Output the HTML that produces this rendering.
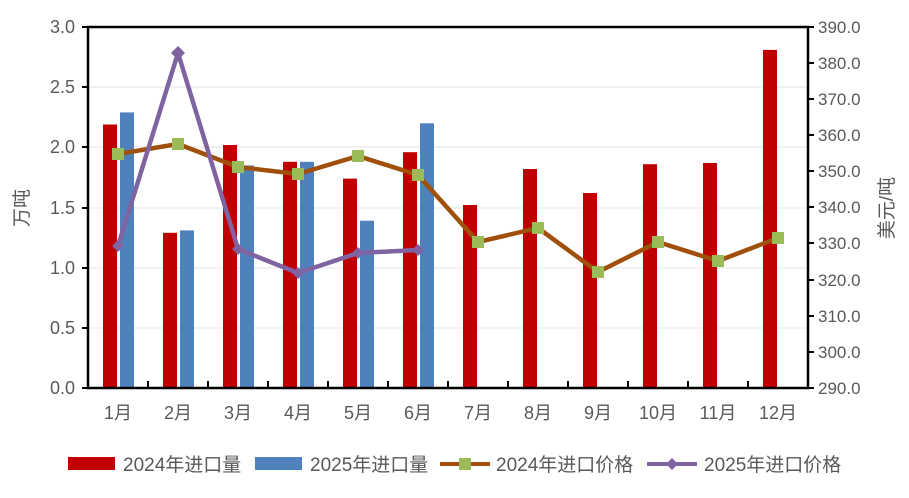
<!DOCTYPE html>
<html><head><meta charset="utf-8"><style>
body{margin:0;background:#fff;}
text{font-family:"Liberation Sans","Noto Sans CJK SC",sans-serif;fill:#595959;}
</style></head><body>
<svg width="909" height="493" xmlns="http://www.w3.org/2000/svg">
<rect width="909" height="493" fill="#fff"/>
<g stroke="#e3e3e3" stroke-width="1">
<line x1="88" y1="87" x2="808" y2="87"/><line x1="88" y1="147" x2="808" y2="147"/>
<line x1="88" y1="208" x2="808" y2="208"/><line x1="88" y1="268" x2="808" y2="268"/>
<line x1="88" y1="328" x2="808" y2="328"/>
</g>
<g fill="#c00000">
<rect x="103" y="124.5" width="14" height="263.5"/>
<rect x="163" y="232.8" width="14" height="155.2"/>
<rect x="223" y="145" width="14" height="243"/>
<rect x="283" y="161.8" width="14" height="226.2"/>
<rect x="343" y="178.6" width="14" height="209.4"/>
<rect x="403" y="152.2" width="14" height="235.8"/>
<rect x="463" y="205" width="14" height="183"/>
<rect x="523" y="169" width="14" height="219"/>
<rect x="583" y="193" width="14" height="195"/>
<rect x="643" y="164.2" width="14" height="223.8"/>
<rect x="703" y="163" width="14" height="225"/>
<rect x="763" y="49.9" width="14" height="338.1"/>
</g>
<g fill="#4f81bd">
<rect x="120" y="112.4" width="14" height="275.6"/>
<rect x="180" y="230.4" width="14" height="157.6"/>
<rect x="240" y="165.4" width="14" height="222.6"/>
<rect x="300" y="161.8" width="14" height="226.2"/>
<rect x="360" y="220.7" width="14" height="167.3"/>
<rect x="420" y="123.3" width="14" height="264.7"/>
</g>
<rect x="88" y="27" width="720" height="361" fill="none" stroke="#000" stroke-width="2.5"/>
<g stroke="#000" stroke-width="2">
<line x1="82" y1="27" x2="88" y2="27"/><line x1="82" y1="87" x2="88" y2="87"/><line x1="82" y1="147" x2="88" y2="147"/><line x1="82" y1="208" x2="88" y2="208"/><line x1="82" y1="268" x2="88" y2="268"/><line x1="82" y1="328" x2="88" y2="328"/><line x1="82" y1="388" x2="88" y2="388"/>
<line x1="808" y1="63" x2="814" y2="63"/><line x1="808" y1="99" x2="814" y2="99"/><line x1="808" y1="135" x2="814" y2="135"/><line x1="808" y1="171" x2="814" y2="171"/><line x1="808" y1="207" x2="814" y2="207"/><line x1="808" y1="243" x2="814" y2="243"/><line x1="808" y1="280" x2="814" y2="280"/><line x1="808" y1="316" x2="814" y2="316"/><line x1="808" y1="352" x2="814" y2="352"/><line x1="808" y1="27" x2="814" y2="27"/><line x1="808" y1="388" x2="814" y2="388"/>
<line x1="148" y1="388" x2="148" y2="381"/><line x1="208" y1="388" x2="208" y2="381"/><line x1="268" y1="388" x2="268" y2="381"/><line x1="328" y1="388" x2="328" y2="381"/><line x1="388" y1="388" x2="388" y2="381"/><line x1="448" y1="388" x2="448" y2="381"/><line x1="508" y1="388" x2="508" y2="381"/><line x1="568" y1="388" x2="568" y2="381"/><line x1="628" y1="388" x2="628" y2="381"/><line x1="688" y1="388" x2="688" y2="381"/><line x1="748" y1="388" x2="748" y2="381"/>
</g>
<polyline fill="none" stroke="#a0500a" stroke-width="4.5" stroke-linejoin="round" points="118,154 178,144 238,167 298,174 358,156 418,175 478,242 538,228 598,272 658,242 718,261 778,238"/>
<g fill="#9bbb59">
<rect x="112" y="148" width="12" height="12"/><rect x="172" y="138" width="12" height="12"/><rect x="232" y="161" width="12" height="12"/><rect x="292" y="168" width="12" height="12"/><rect x="352" y="150" width="12" height="12"/><rect x="412" y="169" width="12" height="12"/><rect x="472" y="236" width="12" height="12"/><rect x="532" y="222" width="12" height="12"/><rect x="592" y="266" width="12" height="12"/><rect x="652" y="236" width="12" height="12"/><rect x="712" y="255" width="12" height="12"/><rect x="772" y="232" width="12" height="12"/>
</g>
<polyline fill="none" stroke="#8064a2" stroke-width="4.5" stroke-linejoin="round" points="118,246 178,53 238,249 298,273 358,253 418,250"/>
<g fill="#8064a2">
<polygon points="118,240 124,246 118,252 112,246"/><polygon points="178,46 185,53 178,60 171,53"/><polygon points="238,243 244,249 238,255 232,249"/><polygon points="298,267 304,273 298,279 292,273"/><polygon points="358,247 364,253 358,259 352,253"/><polygon points="418,244 424,250 418,256 412,250"/>
</g>
<g font-size="18" text-anchor="end">
<text x="75" y="33">3.0</text><text x="75" y="93">2.5</text><text x="75" y="153">2.0</text><text x="75" y="214">1.5</text><text x="75" y="274">1.0</text><text x="75" y="334">0.5</text><text x="75" y="394">0.0</text>
</g>
<g font-size="17" text-anchor="start">
<text x="818" y="33">390.0</text><text x="818" y="69">380.0</text><text x="818" y="105">370.0</text><text x="818" y="141">360.0</text><text x="818" y="177">350.0</text><text x="818" y="213">340.0</text><text x="818" y="249">330.0</text><text x="818" y="286">320.0</text><text x="818" y="322">310.0</text><text x="818" y="358">300.0</text><text x="818" y="394">290.0</text>
</g>
<g font-size="18" text-anchor="middle">
<text x="118" y="419">1月</text><text x="178" y="419">2月</text><text x="238" y="419">3月</text><text x="298" y="419">4月</text><text x="358" y="419">5月</text><text x="418" y="419">6月</text><text x="478" y="419">7月</text><text x="538" y="419">8月</text><text x="598" y="419">9月</text><text x="658" y="419">10月</text><text x="718" y="419">11月</text><text x="778" y="419">12月</text>
</g>
<text font-size="19" text-anchor="middle" transform="translate(28,208) rotate(-90)">万吨</text>
<text font-size="19" text-anchor="middle" transform="translate(893,208) rotate(-90)">美元/吨</text>
<rect x="68" y="457" width="47" height="13" fill="#c00000"/>
<text x="123" y="471" font-size="19">2024年进口量</text>
<rect x="255" y="457" width="47" height="13" fill="#4f81bd"/>
<text x="310" y="471" font-size="19">2025年进口量</text>
<line x1="440" y1="464" x2="490" y2="464" stroke="#a0500a" stroke-width="4"/>
<rect x="459" y="458" width="12" height="12" fill="#9bbb59"/>
<text x="496" y="471" font-size="19">2024年进口价格</text>
<line x1="647" y1="464" x2="697" y2="464" stroke="#8064a2" stroke-width="4"/>
<polygon points="672,458 678,464 672,470 666,464" fill="#8064a2"/>
<text x="704" y="471" font-size="19">2025年进口价格</text>
</svg>
</body></html>
